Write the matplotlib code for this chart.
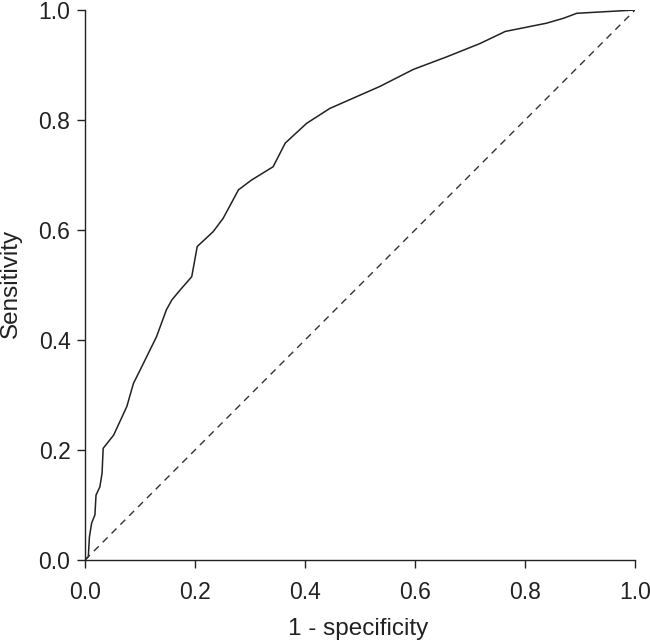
import matplotlib.pyplot as plt
import numpy as np

plt.rcParams['font.family'] = ['Liberation Sans', 'DejaVu Sans']

# ROC curve (1 - specificity, sensitivity)
fpr = [0.0, 0.006, 0.008, 0.012, 0.018, 0.020, 0.027, 0.031, 0.033,
       0.052, 0.076, 0.088, 0.100, 0.130, 0.148, 0.158, 0.173, 0.194,
       0.204, 0.233, 0.251, 0.279, 0.303, 0.342, 0.364, 0.403, 0.445,
       0.536, 0.597, 0.658, 0.718, 0.764, 0.839, 0.870, 0.894, 1.0]
tpr = [0.0, 0.006, 0.042, 0.067, 0.082, 0.118, 0.133, 0.158, 0.203,
       0.227, 0.279, 0.321, 0.345, 0.406, 0.455, 0.473, 0.491, 0.515,
       0.570, 0.597, 0.621, 0.673, 0.691, 0.715, 0.758, 0.794, 0.821,
       0.861, 0.892, 0.915, 0.939, 0.961, 0.976, 0.985, 0.994, 1.0]

ticks = [0.0, 0.2, 0.4, 0.6, 0.8, 1.0]

fig = plt.figure(figsize=(6.5, 6.41), dpi=100)
ax = fig.add_axes([0.1308, 0.1264, 0.8462, 0.858])

ax.plot(fpr, tpr, color='#222222', lw=1.1, solid_joinstyle='round')
ax.plot([0, 1], [0, 1], color='#333333', lw=1.0, dashes=(5, 4))

ax.set_xlim(0, 1)
ax.set_ylim(0, 1)
ax.set_xticks(ticks)
ax.set_yticks(ticks)
ax.set_xticklabels([f"{t:.1f}" for t in ticks])
ax.set_yticklabels([f"{t:.1f}" for t in ticks])

for side in ['top', 'right']:
    ax.spines[side].set_visible(False)
for side in ['left', 'bottom']:
    ax.spines[side].set_linewidth(1.0)
    ax.spines[side].set_color('#222222')

ax.tick_params(direction='out', length=6, width=1.0, colors='#222222',
               labelsize=16.5)
ax.tick_params(axis='x', pad=9)
ax.tick_params(axis='y', pad=4.5)

# axis titles placed in figure pixels as in the reference
fig.text(358 / 650, 6 / 641, "1 - specificity", fontsize=17.5,
         color='#222222', ha='center', va='baseline')
fig.text(11 / 650, 1 - 283 / 641, "Sensitivity", fontsize=17.5,
         color='#222222', ha='center', va='center', rotation=90)

fig.savefig("out.png", dpi=100)
